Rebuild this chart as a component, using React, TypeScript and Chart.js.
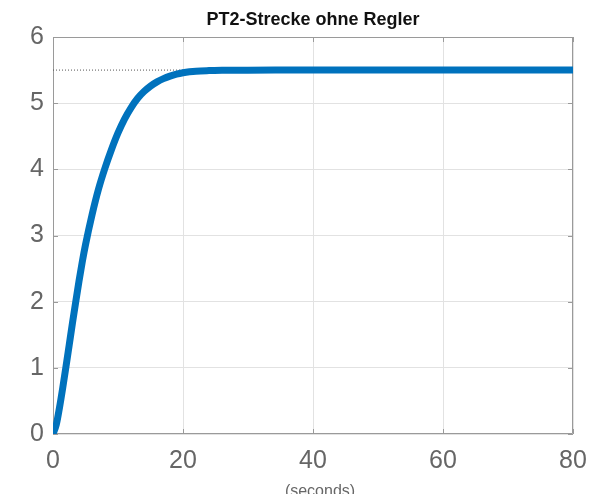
import { useEffect, useRef } from "react";
import Chart from "chart.js/auto";

// Step response of the PT2 plant (time in seconds, output amplitude)
const timeSec = [0, 0.5, 1, 1.5, 2, 2.5, 3, 3.5, 4, 4.5, 5, 6, 7, 8, 9, 10, 11, 12, 13, 14, 15, 16, 17, 18, 19, 20, 21, 22, 24, 26, 28, 30, 35, 40, 50, 60, 70, 80];
const response = [0, 0.14, 0.4, 0.7, 1.02, 1.35, 1.68, 2.0, 2.31, 2.6, 2.86, 3.31, 3.7, 4.02, 4.3, 4.55, 4.76, 4.93, 5.07, 5.175, 5.258, 5.322, 5.371, 5.409, 5.438, 5.459, 5.474, 5.484, 5.492, 5.496, 5.498, 5.499, 5.5, 5.5, 5.5, 5.5, 5.5, 5.5];
const steadyState = 5.5;

const xTicks = [0, 20, 40, 60, 80];
const yTicks = [0, 1, 2, 3, 4, 5, 6];

const titleText = "PT2-Strecke ohne Regler";
const xLabelText = "(seconds)";

const FONT = "'Liberation Sans', Arial, Helvetica, sans-serif";
const AXIS_COLOR = "#9a9a9a";
const LABEL_COLOR = "#666666";

// Box around the axes with inward tick marks, plus title and axis label
const framePlugin = {
  id: "frame",
  beforeDatasetsDraw(chart: any) {
    const { ctx, chartArea } = chart;
    const { left, right, top, bottom } = chartArea;
    const xs = chart.scales.x;
    const ys = chart.scales.y;
    const tick = 5;
    ctx.save();
    ctx.strokeStyle = AXIS_COLOR;
    ctx.lineWidth = 1;
    ctx.beginPath();
    ctx.rect(left + 0.5, top + 0.5, right - left - 1, bottom - top - 1);
    for (const v of xTicks) {
      const px = Math.round(xs.getPixelForValue(v)) + 0.5;
      ctx.moveTo(px, bottom);
      ctx.lineTo(px, bottom - tick);
      ctx.moveTo(px, top);
      ctx.lineTo(px, top + tick);
    }
    for (const v of yTicks) {
      const py = Math.round(ys.getPixelForValue(v)) + 0.5;
      ctx.moveTo(left, py);
      ctx.lineTo(left + tick, py);
      ctx.moveTo(right, py);
      ctx.lineTo(right - tick, py);
    }
    ctx.stroke();
    ctx.restore();
  },
  afterDraw(chart: any) {
    const { ctx, chartArea } = chart;
    const cx = (chartArea.left + chartArea.right) / 2;
    ctx.save();
    ctx.fillStyle = "#111111";
    ctx.font = `bold 18px ${FONT}`;
    ctx.textAlign = "center";
    ctx.textBaseline = "alphabetic";
    ctx.fillText(titleText, cx, 25);
    ctx.fillStyle = LABEL_COLOR;
    ctx.font = `16px ${FONT}`;
    ctx.fillText(xLabelText, cx + 7, 496);
    ctx.restore();
  },
};

export default function App() {
  const canvasRef = useRef<HTMLCanvasElement | null>(null);

  useEffect(() => {
    if (!canvasRef.current) return;
    const curve = timeSec.map((t, i) => ({ x: t, y: response[i] }));
    const level = [
      { x: xTicks[0], y: steadyState },
      { x: xTicks[xTicks.length - 1], y: steadyState },
    ];
    const chart = new Chart(canvasRef.current, {
      type: "line",
      data: {
        datasets: [
          {
            data: curve,
            borderColor: "#0072BD",
            borderWidth: 7,
            borderCapStyle: "round",
            borderJoinStyle: "round",
            cubicInterpolationMode: "monotone",
            pointRadius: 0,
            fill: false,
          },
          {
            data: level,
            borderColor: "#555555",
            borderWidth: 1,
            borderDash: [1, 2],
            pointRadius: 0,
            fill: false,
          },
        ],
      },
      options: {
        responsive: false,
        animation: false,
        layout: { padding: { top: 37, right: 29, bottom: 0, left: 0 } },
        plugins: {
          legend: { display: false },
          tooltip: { enabled: false },
          title: { display: false },
        },
        scales: {
          x: {
            type: "linear",
            min: 0,
            max: 80,
            afterBuildTicks: (scale: any) => {
              scale.ticks = xTicks.map((v) => ({ value: v }));
            },
            afterFit: (scale: any) => {
              scale.height = 60;
            },
            border: { display: false },
            grid: { color: "#e2e2e2", drawTicks: false, lineWidth: 1 },
            ticks: {
              padding: 12,
              color: LABEL_COLOR,
              font: { family: FONT, size: 25 },
              maxRotation: 0,
            },
          },
          y: {
            type: "linear",
            min: 0,
            max: 6,
            afterBuildTicks: (scale: any) => {
              scale.ticks = yTicks.map((v) => ({ value: v }));
            },
            afterFit: (scale: any) => {
              scale.width = 53;
            },
            border: { display: false },
            grid: { color: "#e2e2e2", drawTicks: false, lineWidth: 1 },
            ticks: {
              padding: 9,
              color: LABEL_COLOR,
              font: { family: FONT, size: 25 },
            },
          },
        },
      },
      plugins: [framePlugin],
    });
    return () => chart.destroy();
  }, []);

  return (
    <div style={{ position: "fixed", left: 0, top: 0, width: 602, height: 494, background: "#ffffff" }}>
      <canvas ref={canvasRef} width={602} height={494} style={{ display: "block" }} />
    </div>
  );
}
